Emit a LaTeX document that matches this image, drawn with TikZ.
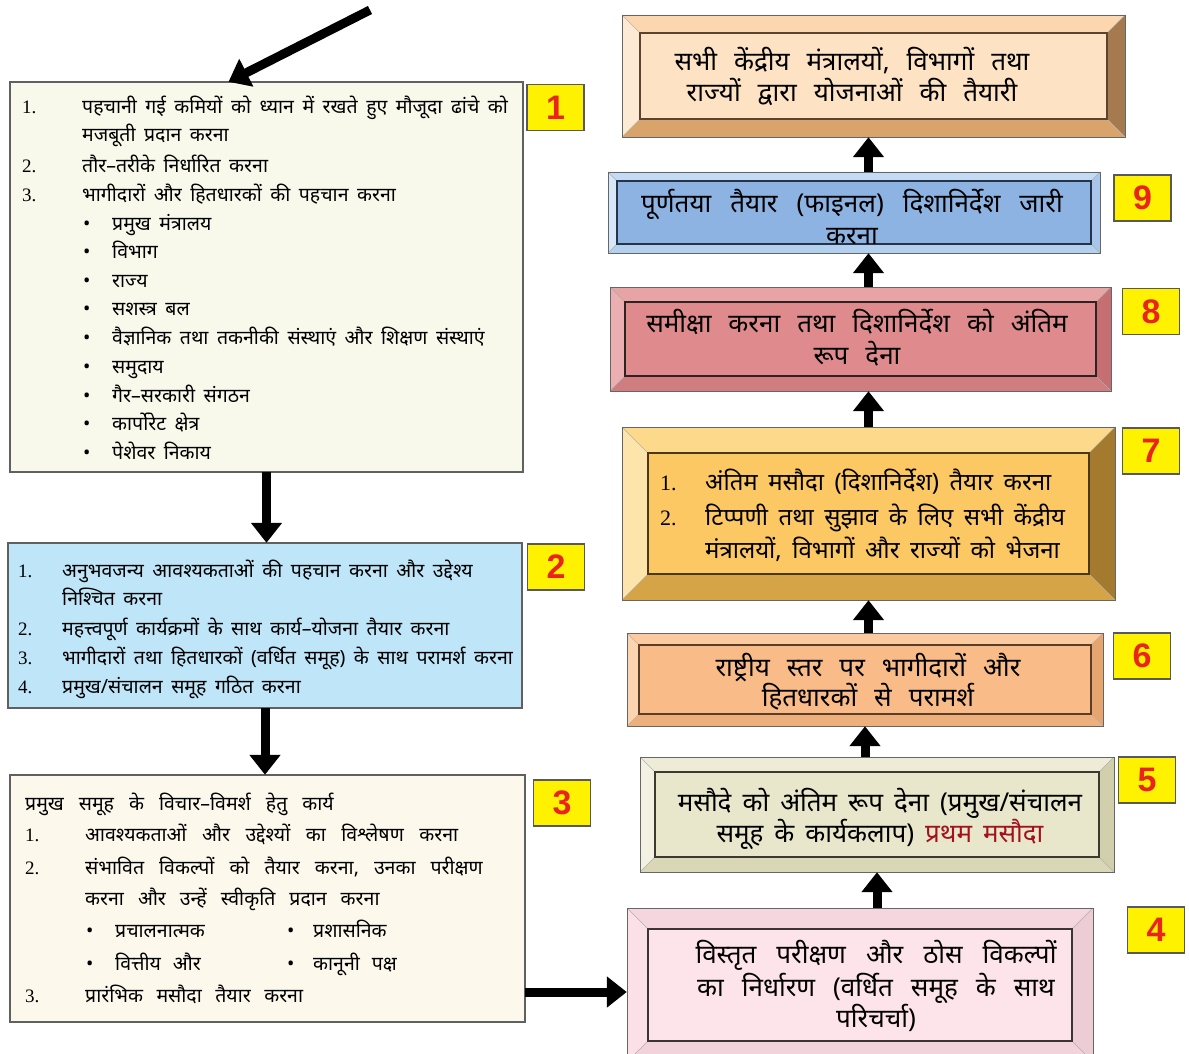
\documentclass[tikz,border=0pt]{standalone}
\usepackage{fontspec}
\setmainfont{Noto Sans}[Script=Devanagari]
\newfontfamily\numfont{Liberation Serif}
\newfontfamily\badgefont{Liberation Sans}
\usetikzlibrary{arrows.meta,fit,calc}

\definecolor{badgeyellow}{HTML}{FFF200}
\definecolor{badgered}{HTML}{E8241C}
\definecolor{boxA}{HTML}{F8F9EA}
\definecolor{boxB}{HTML}{BEE5F8}
\definecolor{boxC}{HTML}{FDF8EC}
\definecolor{draftred}{HTML}{A3121C}
% box 4 (pink)
\definecolor{bxDm}{HTML}{FCE4EA}\definecolor{bxDt}{HTML}{F6D6DE}\definecolor{bxDl}{HTML}{FBE1E7}
\definecolor{bxDr}{HTML}{EDCDD5}\definecolor{bxDb}{HTML}{F3D3DB}\definecolor{bxDe}{HTML}{3C3434}
% box 5 (olive)
\definecolor{bxEm}{HTML}{E8E6CB}\definecolor{bxEt}{HTML}{EEECD7}\definecolor{bxEl}{HTML}{F3F1E1}
\definecolor{bxEr}{HTML}{D2CFAC}\definecolor{bxEb}{HTML}{DAD7B6}\definecolor{bxEe}{HTML}{3C3A30}
% box 6 (orange)
\definecolor{bxFm}{HTML}{F9BC88}\definecolor{bxFt}{HTML}{FBCA9E}\definecolor{bxFl}{HTML}{FCD4B0}
\definecolor{bxFr}{HTML}{E6A46E}\definecolor{bxFb}{HTML}{EDB07C}\definecolor{bxFe}{HTML}{5A3E28}
% box 7 (gold)
\definecolor{bxGm}{HTML}{FCC864}\definecolor{bxGt}{HTML}{FDD98C}\definecolor{bxGl}{HTML}{FDE4AA}
\definecolor{bxGr}{HTML}{A47B2E}\definecolor{bxGb}{HTML}{D4A447}\definecolor{bxGe}{HTML}{4A3818}
% box 8 (rose)
\definecolor{bxHm}{HTML}{DF8A8D}\definecolor{bxHt}{HTML}{E8A3A5}\definecolor{bxHl}{HTML}{ECAFB1}
\definecolor{bxHr}{HTML}{C66F72}\definecolor{bxHb}{HTML}{D07D80}\definecolor{bxHe}{HTML}{2E2222}
% box 9 (blue)
\definecolor{bxIm}{HTML}{8DB3E2}\definecolor{bxIt}{HTML}{C4DBF5}\definecolor{bxIl}{HTML}{D6E7F9}
\definecolor{bxIr}{HTML}{A9C6EA}\definecolor{bxIb}{HTML}{B4D0EF}\definecolor{bxIe}{HTML}{26344A}
% box 10 (peach)
\definecolor{bxJm}{HTML}{FDE2C4}\definecolor{bxJt}{HTML}{FBD6AE}\definecolor{bxJl}{HTML}{FDEAD4}
\definecolor{bxJr}{HTML}{A57A4E}\definecolor{bxJb}{HTML}{D8A46C}\definecolor{bxJe}{HTML}{5A4430}

% #1 name, #2 x1, #3 y1, #4 x2, #5 y2, #6 bevel, #7 colour prefix
\newcommand{\bevelbox}[7]{%
  \pgfmathsetmacro\bxa{#2+#6}\pgfmathsetmacro\bya{#3+#6}%
  \pgfmathsetmacro\bxb{#4-#6}\pgfmathsetmacro\byb{#5-#6}%
  \fill[fill=#7t] (#2,#3) -- (#4,#3) -- (\bxb,\bya) -- (\bxa,\bya) -- cycle;
  \fill[fill=#7l] (#2,#3) -- (\bxa,\bya) -- (\bxa,\byb) -- (#2,#5) -- cycle;
  \fill[fill=#7r] (#4,#3) -- (#4,#5) -- (\bxb,\byb) -- (\bxb,\bya) -- cycle;
  \fill[fill=#7b] (#2,#5) -- (\bxa,\byb) -- (\bxb,\byb) -- (#4,#5) -- cycle;
  \draw[#7e!40, line width=0.6pt] (#2,#3) -- (\bxa,\bya) (#4,#3) -- (\bxb,\bya)
        (#2,#5) -- (\bxa,\byb) (#4,#5) -- (\bxb,\byb);
  \filldraw[fill=#7m, draw=#7e, line width=1.3pt] (\bxa,\bya) rectangle (\bxb,\byb);
  \draw[gray!80!black, line width=0.9pt] (#2,#3) rectangle (#4,#5);
  \node[fit={(#2,#3)(#4,#5)}, inner sep=0pt] (#1) {};
}

\begin{document}
\begin{tikzpicture}[x=1pt,y=-1pt,
  lt/.style={anchor=base west, inner sep=0pt, font={\fontsize{19.5}{23}\selectfont\spaceskip=#1 plus 2pt\relax}},
  lt/.default=8.5pt,
  num/.style={anchor=base west, inner sep=0pt, font=\numfont\fontsize{19}{22}\selectfont},
  rt/.style={anchor=base, inner sep=0pt, font={\fontsize{26}{30}\selectfont\spaceskip=#1\relax}},
  rt/.default=17pt,
  rtl/.style={anchor=base west, inner sep=0pt, font={\fontsize{24}{28}\selectfont\spaceskip=10.5pt\relax}},
  rnum/.style={anchor=base west, inner sep=0pt, font=\numfont\fontsize{22}{26}\selectfont},
  badge/.style={draw=gray!70!black, fill=badgeyellow, minimum width=57pt, minimum height=46pt,
     inner sep=0pt, line width=1.2pt, text=badgered,
     font=\badgefont\bfseries\fontsize{34}{34}\selectfont},
  bigarrow/.style={line width=9pt, -{Triangle[length=20pt,width=30pt]}},
  plainbox/.style={draw=gray!75!black, line width=1.4pt, inner sep=0pt}]

\useasboundingbox (0,0) rectangle (1189,1054);
\fill[white] (0,0) rectangle (1189,1054);

% ---------------- left column ----------------
\filldraw[plainbox, fill=boxA] (10,82) rectangle (523,472);
\node[fit={(10,82)(523,472)}, inner sep=0pt] (b1) {};
\filldraw[plainbox, fill=boxB] (8,543) rectangle (522,708);
\node[fit={(8,543)(522,708)}, inner sep=0pt] (b2) {};
\filldraw[plainbox, fill=boxC] (10,775) rectangle (525,1022);
\node[fit={(10,775)(525,1022)}, inner sep=0pt] (b3) {};

% box 1 text
\node[num] (b1n1) at (22,114) {1.};
\node[lt] (b1t1) at (82,114) {पहचानी गई कमियों को ध्यान में रखते हुए मौजूदा ढांचे को};
\node[lt] (b1t2) at (82,142) {मजबूती प्रदान करना};
\node[num] (b1n2) at (22,172) {2.};
\node[lt] (b1t3) at (82,172) {तौर–तरीके निर्धारित करना};
\node[num] (b1n3) at (22,201) {3.};
\node[lt] (b1t4) at (82,201) {भागीदारों और हितधारकों की पहचान करना};
\foreach \yy/\tt [count=\i] in {230/प्रमुख मंत्रालय, 258/विभाग, 287/राज्य, 315/सशस्त्र बल,
   344/वैज्ञानिक तथा तकनीकी संस्थाएं और शिक्षण संस्थाएं, 373/समुदाय, 402/गैर–सरकारी संगठन,
   430/कार्पोरेट क्षेत्र, 459/पेशेवर निकाय}{
  \node[lt] (b1b\i) at (83,\yy) {•};
  \node[lt] (b1s\i) at (112,\yy) {\tt};
}

% box 2 text
\node[num] (b2n1) at (18,577) {1.};
\node[lt] (b2t1) at (62,577) {अनुभवजन्य आवश्यकताओं की पहचान करना और उद्देश्य};
\node[lt] (b2t2) at (62,605) {निश्चित करना};
\node[num] (b2n2) at (18,635) {2.};
\node[lt] (b2t3) at (62,635) {महत्त्वपूर्ण कार्यक्रमों के साथ कार्य–योजना तैयार करना};
\node[num] (b2n3) at (18,664) {3.};
\node[lt] (b2t4) at (62,664) {भागीदारों तथा हितधारकों (वर्धित समूह) के साथ परामर्श करना};
\node[num] (b2n4) at (18,693) {4.};
\node[lt] (b2t5) at (62,693) {प्रमुख/संचालन समूह गठित करना};

% box 3 text
\node[lt=15pt] (b3h) at (25,810) {प्रमुख समूह के विचार–विमर्श हेतु कार्य};
\node[num] (b3n1) at (25,841) {1.};
\node[lt=15.5pt] (b3t1) at (85,841) {आवश्यकताओं और उद्देश्यों का विश्लेषण करना};
\node[num] (b3n2) at (25,874) {2.};
\node[lt=15pt] (b3t2) at (85,874) {संभावित विकल्पों को तैयार करना, उनका परीक्षण};
\node[lt=14pt] (b3t3) at (85,905) {करना और उन्हें स्वीकृति प्रदान करना};
\node[lt] (b3b1) at (86,937) {•};
\node[lt] (b3s1) at (115,937) {प्रचालनात्मक};
\node[lt] (b3b2) at (287,937) {•};
\node[lt] (b3s2) at (313,937) {प्रशासनिक};
\node[lt] (b3b3) at (86,970) {•};
\node[lt=12pt] (b3s3) at (115,970) {वित्तीय और};
\node[lt] (b3b4) at (287,970) {•};
\node[lt=12pt] (b3s4) at (313,970) {कानूनी पक्ष};
\node[num] (b3n3) at (25,1002) {3.};
\node[lt=13.5pt] (b3t4) at (85,1002) {प्रारंभिक मसौदा तैयार करना};

% ---------------- right column ----------------
\bevelbox{b10}{622}{15}{1125}{137}{18}{bxJ}
\bevelbox{b9}{608}{172}{1100}{253}{9}{bxI}
\bevelbox{b8}{610}{287}{1111}{391}{15}{bxH}
\bevelbox{b7}{622}{427}{1115}{600}{26}{bxG}
\bevelbox{b6}{627}{633}{1103}{726}{12}{bxF}
\bevelbox{b5}{640}{757}{1114}{872}{15}{bxE}
\bevelbox{b4}{627}{908}{1093}{1062}{21}{bxD}

\node[rt] (t10a) at (852,71) {सभी केंद्रीय मंत्रालयों, विभागों तथा};
\node[rt] (t10b) at (852,102) {राज्यों द्वारा योजनाओं की तैयारी};
\node[rt=19pt] (t9a) at (852,212) {पूर्णतया तैयार (फाइनल) दिशानिर्देश जारी};
\node[rt] (t9b) at (852,244) {करना};
\node[rt] (t8a) at (857,332) {समीक्षा करना तथा दिशानिर्देश को अंतिम};
\node[rt] (t8b) at (857,364) {रूप देना};
\node[rnum] (t7n1) at (660,490) {1.};
\node[rtl] (t7a) at (705,490) {अंतिम मसौदा (दिशानिर्देश) तैयार करना};
\node[rnum] (t7n2) at (660,525) {2.};
\node[rtl] (t7b) at (705,525) {टिप्पणी तथा सुझाव के लिए सभी केंद्रीय};
\node[rtl] (t7c) at (705,558) {मंत्रालयों, विभागों और राज्यों को भेजना};
\node[rt] (t6a) at (868,676) {राष्ट्रीय स्तर पर भागीदारों और};
\node[rt] (t6b) at (868,706) {हितधारकों से परामर्श};
\node[rt=11pt] (t5a) at (880,811) {मसौदे को अंतिम रूप देना (प्रमुख/संचालन};
\node[rt=11pt] (t5b) at (880,842) {समूह के कार्यकलाप) \textcolor{draftred}{प्रथम मसौदा}};
\node[rt=20pt] (t4a) at (876,963) {विस्तृत परीक्षण और ठोस विकल्पों};
\node[rt=18pt] (t4b) at (876,996) {का निर्धारण (वर्धित समूह के साथ};
\node[rt] (t4c) at (876,1027) {परिचर्चा)};

% ---------------- badges ----------------
\node[badge] (n1) at (555.5,107.5) {1};
\node[badge] (n2) at (556,567) {2};
\node[badge] (n3) at (562,803) {3};
\node[badge] (n4) at (1156,930) {4};
\node[badge] (n5) at (1147,780) {5};
\node[badge] (n6) at (1142,656) {6};
\node[badge] (n7) at (1151,451) {7};
\node[badge] (n8) at (1151,311.5) {8};
\node[badge] (n9) at (1142.5,198) {9};

% ---------------- connectors ----------------
\coordinate (topstart) at (370,10);
\draw[bigarrow] (topstart) -- ([xshift=-38pt]b1.north);
\draw[bigarrow] (b1.south) -- (b1.south |- b2.north);
\draw[bigarrow] (b2.south) -- (b2.south |- b3.north);
\coordinate (a34) at (525,992);
\draw[bigarrow] (a34) -- (a34 -| b4.west);
\draw[bigarrow] (b5.south |- b4.north) -- (b5.south);
\draw[bigarrow] (b6.south |- b5.north) -- (b6.south);
\draw[bigarrow] (b7.south |- b6.north) -- (b7.south);
\draw[bigarrow] (b7.north) -- (b7.north |- b8.south);
\draw[bigarrow] (b7.north |- b8.north) -- (b7.north |- b9.south);
\draw[bigarrow] (b7.north |- b9.north) -- (b7.north |- b10.south);
\end{tikzpicture}
\end{document}
